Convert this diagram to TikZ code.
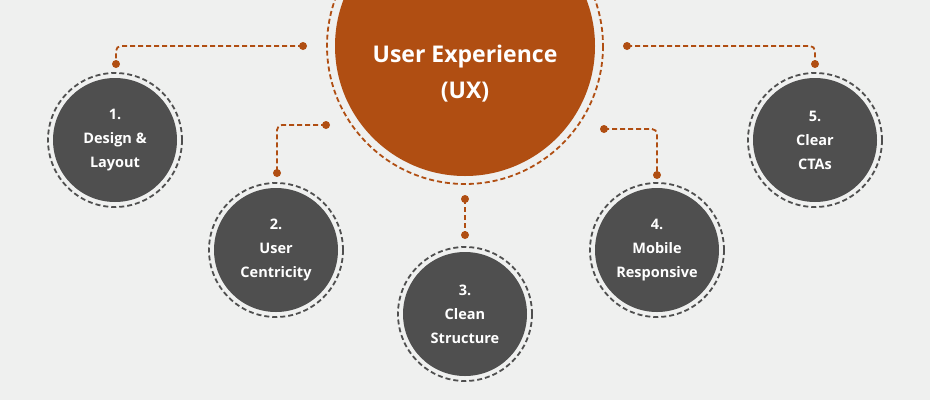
\documentclass[tikz,border=0pt]{standalone}
\usepackage{fontspec}
\setmainfont{Open Sans}
\definecolor{bg}{HTML}{EFF0EF}
\definecolor{rust}{HTML}{B04E12}
\definecolor{slate}{HTML}{4F4F4F}
\tikzset{ hub/.style = { circle % centre
        , fill = rust
        , minimum size = 260pt
        , text = white
        , font = \bfseries\fontsize{23}{36}\selectfont
        , align = center
        }
        , topic/.style = { circle % item
        , fill = slate
        , minimum size = 124pt
        , text = white
        , font = \bfseries\fontsize{14.5}{24}\selectfont
        , align = center
        }
        , ring/.style = { line width = 1.8pt, dash pattern = on 5pt off 3pt }
        , link/.style = { draw = rust, ring, rounded corners = 5pt }
        , pin/.style = { circle, fill = rust, inner sep = 0pt, minimum size = 8pt }
        }

\begin{document}
\begin{tikzpicture}[x=1pt, y=-1pt]
        \fill [bg] (0,0) rectangle (930,400);
        \useasboundingbox (0,0) rectangle (930,400);

        \node [hub] (ux) at (465,46) {};
        \node [white, font=\bfseries\fontsize{23}{36}\selectfont, align=center] (uxt) at (465,74) {User Experience\\(UX)};
        \draw [rust, ring] (ux.center) circle (138);

        \node [topic] (t1) at (115,140) {1.\\Design \&\\Layout};
        \node [topic] (t2) at (276,250) {2.\\User\\Centricity};
        \node [topic] (t3) at (465,314) {3.\\Clean\\Structure};
        \node [topic] (t4) at (657,250) {4.\\Mobile\\Responsive};
        \node [topic] (t5) at (815,140) {5.\\Clear\\CTAs};
        \foreach \t in {t1,t2,t3,t4,t5}
            \draw [slate, ring] (\t.center) circle (67);

        \node [pin] (a1) at (303,46) {};  \node [pin] (b1) at (116,64) {};
        \node [pin] (a2) at (326,125) {}; \node [pin] (b2) at (277,173) {};
        \node [pin] (a3) at (465,199) {}; \node [pin] (b3) at (465,235) {};
        \node [pin] (a4) at (604,129) {}; \node [pin] (b4) at (657,175) {};
        \node [pin] (a5) at (627,46) {};  \node [pin] (b5) at (815,64) {};
        \draw [link] (a1.center) -| (b1.center);
        \draw [link] (a2.center) -| (b2.center);
        \draw [link] (a3.center) -- (b3.center);
        \draw [link] (a4.center) -| (b4.center);
        \draw [link] (a5.center) -| (b5.center);
\end{tikzpicture}
\end{document}
